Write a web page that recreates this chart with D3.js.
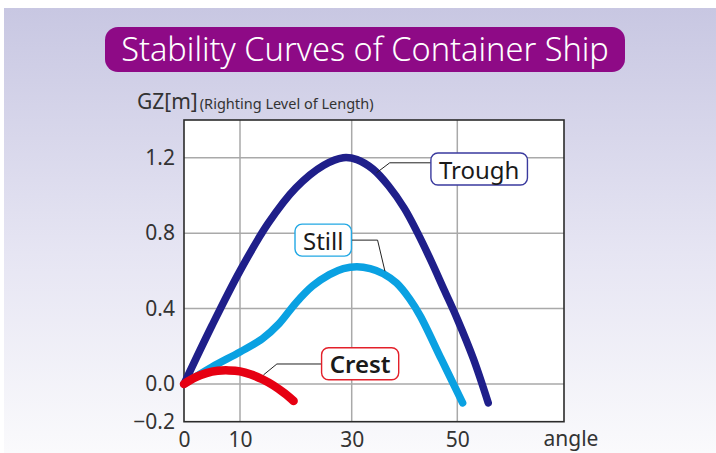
<!DOCTYPE html>
<html>
<head>
<meta charset="utf-8">
<script src="https://cdn.jsdelivr.net/npm/d3@7"></script>
<style>
  html, body { margin: 0; padding: 0; background: #ffffff; }
  svg { display: block; font-family: "Noto Sans", "Open Sans", sans-serif; }
</style>
</head>
<body>
<svg id="chart" width="716" height="453"></svg>
<script>
// Heel angle (deg) vs righting lever GZ (m) for a container ship in three wave conditions
const troughAngle = [0, 5, 10, 15, 20, 25, 28.5, 31, 34, 37, 40, 42.5, 45, 47.5, 50, 53, 55.8];
const troughGZ    = [0, 0.31, 0.6, 0.85, 1.04, 1.16, 1.2, 1.19, 1.14, 1.05, 0.93, 0.8, 0.655, 0.5, 0.345, 0.135, -0.1];

const stillAngle = [0, 5, 10, 14, 17, 20, 23, 26, 28.5, 31, 33.5, 36, 38.5, 41, 43, 47, 51];
const stillGZ    = [0, 0.09, 0.17, 0.24, 0.32, 0.43, 0.52, 0.58, 0.612, 0.622, 0.612, 0.585, 0.535, 0.45, 0.36, 0.13, -0.1];

const crestAngle = [0, 2, 4, 6, 8, 10, 12, 14, 16, 18, 19.6];
const crestGZ    = [0, 0.035, 0.058, 0.07, 0.072, 0.067, 0.05, 0.025, -0.008, -0.05, -0.09];

const xTicks = [0, 10, 30, 50];
const xGrid  = [10, 30, 50];
const yTicks = [-0.2, 0.0, 0.4, 0.8, 1.2];
const yGrid  = [0.0, 0.4, 0.8, 1.2];

const seriesNames = ["Trough", "Still", "Crest"];
// callout boxes: [label angle, label GZ], elbow and the point on the curve
const calloutBox    = [[54.1, 1.14], [24.9, 0.763], [31.6, 0.107]];
const calloutElbow  = [[37.2, 1.173], [34.9, 0.763], [16.6, 0.106]];
const calloutAnchor = [[34.7, 1.12], [36.3, 0.598], [14.2, 0.048]];

const colors = { Trough: "#1f1f8a", Still: "#0aa1e2", Crest: "#e60012" };
const boxStroke = { Trough: "#3a3a9e", Still: "#22a8e4", Crest: "#e3202a" };

const svg = d3.select("#chart");
const W = 716, H = 453;

// background
const defs = svg.append("defs");
const grad = defs.append("linearGradient").attr("id", "bg").attr("x1", 0).attr("y1", 0).attr("x2", 0).attr("y2", 1);
grad.append("stop").attr("offset", "0%").attr("stop-color", "#c8c7e2");
grad.append("stop").attr("offset", "55%").attr("stop-color", "#e6e5f3");
grad.append("stop").attr("offset", "100%").attr("stop-color", "#fafafc");
svg.append("rect").attr("x", 4).attr("y", 8).attr("width", W - 4).attr("height", H - 8).attr("fill", "url(#bg)");

// title
const title = svg.append("g");
title.append("rect").attr("x", 105).attr("y", 27).attr("width", 520).attr("height", 45)
  .attr("rx", 13).attr("fill", "#8e0a86");
title.append("text").attr("x", 365).attr("y", 61).attr("text-anchor", "middle")
  .attr("fill", "#ffffff").attr("font-size", 32.5).attr("font-weight", 300)
  .text("Stability Curves of Container Ship");

// scales (the angle axis is slightly uneven between its gridlines)
const x = d3.scaleLinear().domain([0, 10, 30, 50, 70]).range([184, 240, 351.7, 457.3, 564]);
const y = d3.scaleLinear().domain([-0.2, 1.4]).range([421.7, 120]);

// plot area
svg.append("rect").attr("x", x(0)).attr("y", y(1.4)).attr("width", x(70) - x(0)).attr("height", y(-0.2) - y(1.4))
  .attr("fill", "#ffffff");

svg.append("g").selectAll("line").data(yGrid).join("line")
  .attr("x1", x(0)).attr("x2", x(70)).attr("y1", d => y(d)).attr("y2", d => y(d))
  .attr("stroke", "#a9a9a9").attr("stroke-width", 1.5);
svg.append("g").selectAll("line").data(xGrid).join("line")
  .attr("y1", y(-0.2)).attr("y2", y(1.4)).attr("x1", d => x(d)).attr("x2", d => x(d))
  .attr("stroke", "#a9a9a9").attr("stroke-width", 1.5);

svg.append("rect").attr("x", x(0)).attr("y", y(1.4)).attr("width", x(70) - x(0)).attr("height", y(-0.2) - y(1.4))
  .attr("fill", "none").attr("stroke", "#2b2b2b").attr("stroke-width", 1.6);

// axes
const yAxis = d3.axisLeft(y).tickValues(yTicks).tickSize(0).tickPadding(9)
  .tickFormat(d => d3.format(".1f")(d).replace("-", "\u2212"));
const gy = svg.append("g").attr("transform", `translate(${x(0)},0)`).call(yAxis);
gy.select(".domain").remove();
gy.selectAll("text").attr("font-size", 21).attr("fill", "#333").attr("font-family", "Noto Sans, sans-serif");

const xAxis = d3.axisBottom(x).tickValues(xTicks).tickSize(0).tickPadding(10).tickFormat(d3.format("d"));
const gx = svg.append("g").attr("transform", `translate(0,${y(-0.2)})`).call(xAxis);
gx.select(".domain").remove();
gx.selectAll("text").attr("font-size", 21).attr("fill", "#333").attr("font-family", "Noto Sans, sans-serif");

svg.append("text").attr("x", 571).attr("y", 446).attr("text-anchor", "middle")
  .attr("font-size", 21).attr("fill", "#333").text("angle");

const yTitle = svg.append("text").attr("x", 137).attr("y", 109).attr("fill", "#333");
yTitle.append("tspan").attr("font-size", 21).text("GZ[m]");
yTitle.append("tspan").attr("font-size", 14.5).attr("dx", 2).text("(Righting Level of Length)");

// curves
const line = d3.line().x(d => x(d[0])).y(d => y(d[1])).curve(d3.curveCatmullRom.alpha(0.5));
const series = [
  { name: "Trough", pts: d3.zip(troughAngle, troughGZ), w: 7.5 },
  { name: "Still",  pts: d3.zip(stillAngle, stillGZ),   w: 7.5 },
  { name: "Crest",  pts: d3.zip(crestAngle, crestGZ),   w: 8.5 }
];
svg.append("g").selectAll("path").data(series).join("path")
  .attr("d", d => line(d.pts))
  .attr("fill", "none")
  .attr("stroke", d => colors[d.name])
  .attr("stroke-width", d => d.w)
  .attr("stroke-linecap", "round")
  .attr("stroke-linejoin", "round");

// callouts
seriesNames.forEach((name, i) => {
  const [bx, by] = calloutBox[i];
  const [ex, ey] = calloutElbow[i];
  const [ax, ay] = calloutAnchor[i];
  const cx = x(bx), cy = y(by);
  const g = svg.append("g");
  const t = g.append("text").attr("x", cx).attr("y", cy).attr("text-anchor", "middle")
    .attr("dominant-baseline", "central").attr("font-size", 24)
    .attr("font-weight", name === "Crest" ? 600 : 400)
    .attr("fill", "#1a1a1a").text(name);
  const bb = t.node().getBBox();
  const bw = bb.width + 16, bh = 32;
  const left = cx - bw / 2;
  const near = ex < bx ? left : cx + bw / 2;
  g.insert("path", "text")
    .attr("d", `M${near},${y(ey)}L${x(ex)},${y(ey)}L${x(ax)},${y(ay)}`)
    .attr("fill", "none").attr("stroke", "#222").attr("stroke-width", 1);
  g.insert("rect", "text").attr("x", left).attr("y", cy - bh / 2).attr("width", bw).attr("height", bh)
    .attr("rx", 7).attr("fill", "#ffffff").attr("stroke", boxStroke[name]).attr("stroke-width", 1.4);
});
</script>
</body>
</html>
